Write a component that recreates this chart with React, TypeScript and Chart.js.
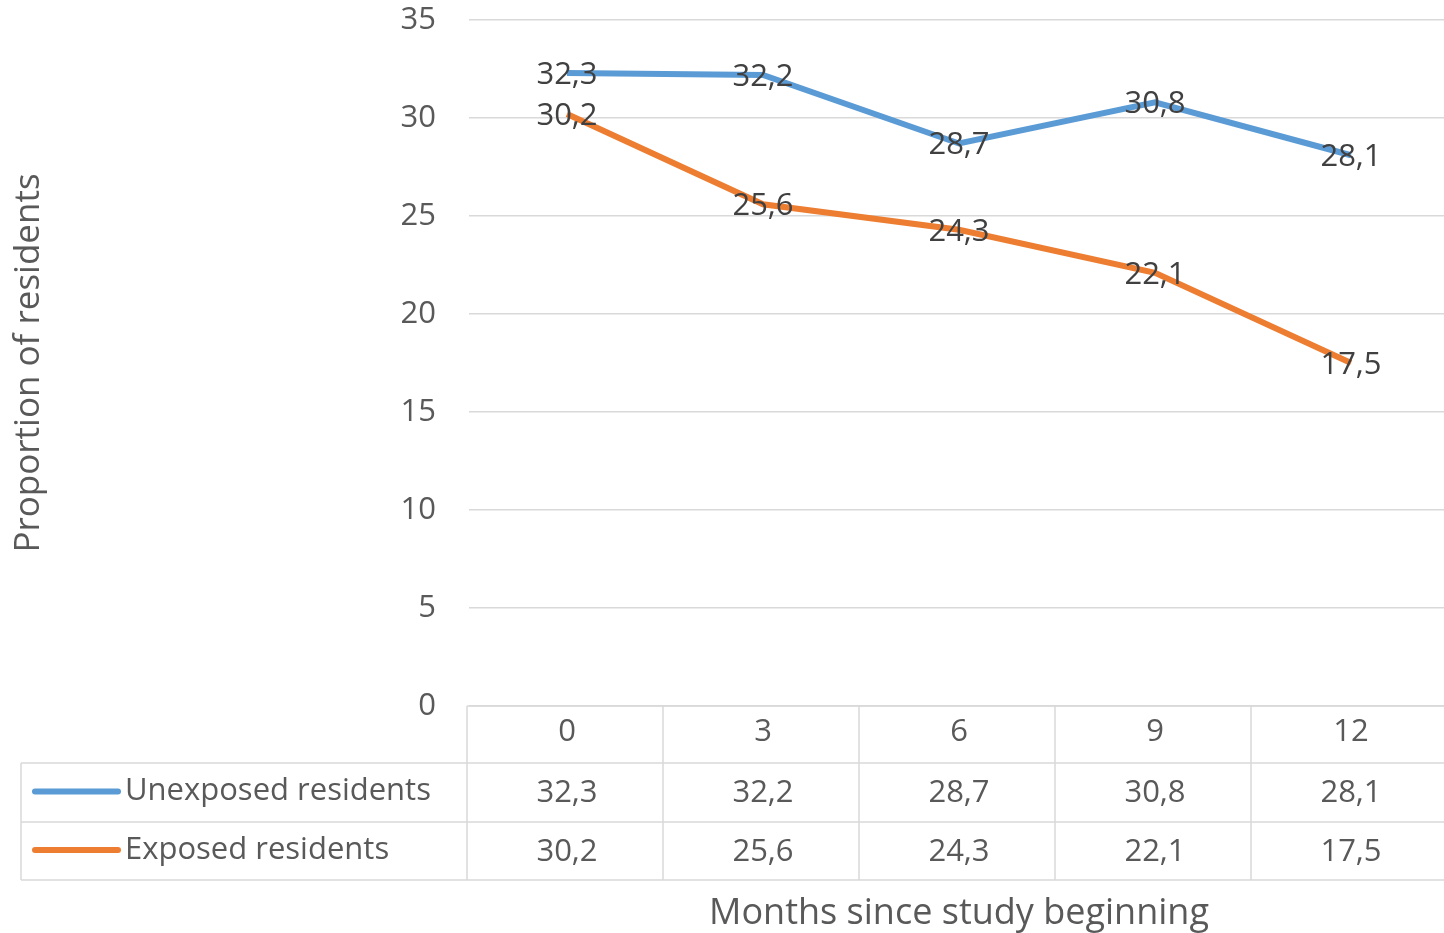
import React, { useEffect, useRef } from "react";
import { Chart, registerables } from "chart.js";

Chart.register(...registerables);

const months = ["0", "3", "6", "9", "12"];
const unexposed = [32.3, 32.2, 28.7, 30.8, 28.1];
const exposed = [30.2, 25.6, 24.3, 22.1, 17.5];
const seriesNames = ["Unexposed residents", "Exposed residents"];
const yTitle = "Proportion of residents";
const xTitle = "Months since study beginning";

const FONT = "'Open Sans'";
const TEXT = "#595959";
const LABEL = "#404040";
const GRID = "#d9d9d9";
const BLUE = "#5b9bd5";
const ORANGE = "#ed7d31";
const FS = 31;
const TFS = 36;

const fmt = (v: number) => v.toFixed(1).replace(".", ",");

const tablePlugin = {
  id: "dataTable",
  afterDatasetsDraw(chart: any) {
    const ctx = chart.ctx;
    ctx.save();
    ctx.font = `${FS}px ${FONT}`;
    ctx.fillStyle = LABEL;
    ctx.textAlign = "center";
    ctx.textBaseline = "middle";
    chart.data.datasets.forEach((ds: any, di: number) => {
      const meta = chart.getDatasetMeta(di);
      meta.data.forEach((pt: any, i: number) => {
        ctx.fillText(fmt(ds.data[i]), pt.x, pt.y + 2);
      });
    });
    ctx.restore();
  },
  afterDraw(chart: any) {
    const ctx = chart.ctx;
    const x = chart.scales.x;
    const area = chart.chartArea;
    const top = area.bottom;
    const r1 = top + 57;
    const r2 = r1 + 59;
    const r3 = r2 + 58;
    const tableLeft = 21;
    const right = chart.width;
    const half = (x.getPixelForValue(1) - x.getPixelForValue(0)) / 2;
    ctx.save();
    ctx.strokeStyle = GRID;
    ctx.lineWidth = 1.5;
    ctx.beginPath();
    ctx.moveTo(area.left - 2, top); ctx.lineTo(right, top);
    [r1, r2, r3].forEach((y) => { ctx.moveTo(tableLeft, y); ctx.lineTo(right, y); });
    ctx.moveTo(tableLeft, r1); ctx.lineTo(tableLeft, r3);
    for (let i = 0; i < months.length; i++) {
      const cx = x.getPixelForValue(i) - half - 2;
      ctx.moveTo(cx, top); ctx.lineTo(cx, r3);
    }
    ctx.stroke();

    ctx.font = `${FS}px ${FONT}`;
    ctx.fillStyle = TEXT;
    ctx.textBaseline = "middle";
    const rows = [unexposed, exposed];
    const colors = [BLUE, ORANGE];
    rows.forEach((vals, ri) => {
      const cy = ri === 0 ? (r1 + r2) / 2 : (r2 + r3) / 2;
      ctx.textAlign = "center";
      vals.forEach((v, i) => ctx.fillText(fmt(v), x.getPixelForValue(i), cy + 1));
      ctx.strokeStyle = colors[ri];
      ctx.lineWidth = 6;
      ctx.lineCap = "round";
      ctx.beginPath();
      ctx.moveTo(35, cy - 1); ctx.lineTo(118, cy - 1);
      ctx.stroke();
      ctx.textAlign = "left";
      ctx.fillText(seriesNames[ri], 125, cy - 1);
    });

    ctx.font = `${TFS}px ${FONT}`;
    ctx.textAlign = "center";
    ctx.fillText(xTitle, x.getPixelForValue(2), 914);
    ctx.restore();
  },
};

export default function App() {
  const ref = useRef<HTMLCanvasElement>(null);
  useEffect(() => {
    if (!ref.current) return;
    const chart = new Chart(ref.current, {
      type: "line",
      data: {
        labels: months,
        datasets: [
          { label: seriesNames[0], data: unexposed, borderColor: BLUE, borderWidth: 6, pointRadius: 0, tension: 0 },
          { label: seriesNames[1], data: exposed, borderColor: ORANGE, borderWidth: 6, pointRadius: 0, tension: 0 },
        ],
      },
      options: {
        responsive: false,
        animation: false,
        layout: { padding: { top: 20, right: 1, bottom: 0, left: 0 } },
        plugins: { legend: { display: false }, tooltip: { enabled: false } },
        scales: {
          x: {
            offset: true,
            grid: { display: false, drawTicks: false },
            border: { display: false },
            ticks: { color: TEXT, font: { family: FONT, size: FS }, padding: 8 },
            afterFit: (s: any) => { s.height = 227; },
          },
          y: {
            min: 0,
            max: 35,
            ticks: { stepSize: 5, color: TEXT, font: { family: FONT, size: FS }, padding: 0 },
            grid: { color: GRID, lineWidth: 1.5, drawTicks: true, tickLength: 33, tickColor: "rgba(0,0,0,0)" },
            border: { display: false },
            title: { display: true, text: yTitle, color: TEXT, font: { family: FONT, size: 35 }, padding: { top: 8, bottom: 0 } },
            afterFit: (s: any) => { s.width = 469; },
          },
        },
      },
      plugins: [tablePlugin],
    });
    return () => chart.destroy();
  }, []);
  return (
    <div style={{ position: "fixed", left: 0, top: 0, width: 1444, height: 933, overflow: "hidden", background: "#fff" }}>
      <canvas ref={ref} width={1450} height={933} style={{ display: "block" }} />
    </div>
  );
}
